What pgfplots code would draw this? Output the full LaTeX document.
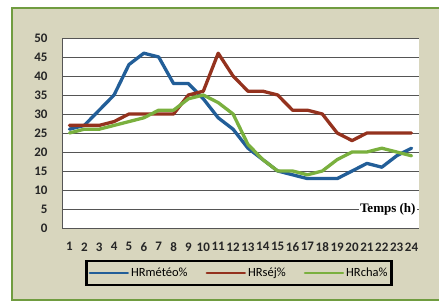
\documentclass[border=0pt]{standalone}
\usepackage{pgfplots}
\pgfplotsset{compat=1.18}
\usepackage{fontspec}
\setmainfont{Carlito}
\newfontfamily\timesfont{Liberation Serif}
\definecolor{bgbeige}{RGB}{216,214,190}
\definecolor{framegreen}{RGB}{112,156,64}
\definecolor{cblue}{RGB}{34,94,152}
\definecolor{cred}{RGB}{148,50,30}
\definecolor{cgreen}{RGB}{122,176,62}
\definecolor{gridgray}{RGB}{85,85,85}
\pgfplotstableread{
h meteo sej cha
1 26 27 25
2 27 27 26
3 31 27 26
4 35 28 27
5 43 30 28
6 46 30 29
7 45 30 31
8 38 30 31
9 38 35 34
10 34 36 35
11 29 46 33
12 26 40 30
13 21 36 22
14 18 36 18
15 15 35 15
16 14 31 15
17 13 31 14
18 13 30 15
19 13 25 18
20 15 23 20
21 17 25 20
22 16 25 21
23 19 25 20
24 21 25 19
}\datatable
\begin{document}
\begin{tikzpicture}[x=1pt,y=1pt]
\path[use as bounding box] (0,0) rectangle (439,302);
\fill[white] (0,0) rectangle (439,302);
\fill[bgbeige] (12,2) rectangle (445,294);
\draw[framegreen, line width=2pt] (445,2) -- (12,2) -- (12,294) -- (445,294);
\begin{axis}[
  at={(62pt,74pt)}, anchor=south west,
  scale only axis, width=357pt, height=190pt,
  xmin=0.5, xmax=24.5, ymin=0, ymax=50,
  xtick={1,...,24}, ytick={0,5,...,50},
  axis background/.style={fill=white},
  axis x line*=bottom, axis y line*=left,
  axis line style={gridgray, line width=0.8pt},
  major tick length=0pt,
  ymajorgrids, grid style={gridgray, line width=0.8pt},
  /pgf/number format/assume math mode=true,
  tick label style={font=\bfseries\fontsize{13}{13}\selectfont, text=black!85},
  yticklabel style={xshift=-11pt},
  xticklabel style={yshift=-11pt},
  legend columns=3,
  legend style={at={(0.496,-0.237)}, anchor=center, draw=black, line width=2.5pt,
     fill=bgbeige, font=\fontsize{12.5}{12.5}\selectfont, inner xsep=2pt, inner ysep=5pt,
     /tikz/every even column/.append style={column sep=16pt}},
  legend image code/.code={\draw[#1, line width=2.5pt] (0pt,0pt) -- (38pt,0pt);},
  every axis plot/.append style={line width=3.3pt, line join=round, line cap=round},
]
\addplot[cblue] table[x=h,y=meteo] {\datatable};
\addlegendentry{HRmétéo\%}
\addplot[cred] table[x=h,y=sej] {\datatable};
\addlegendentry{HRséj\%}
\addplot[cgreen] table[x=h,y=cha] {\datatable};
\addlegendentry{HRcha\%}
\node[fill=white, inner sep=1.5pt, font=\timesfont\bfseries\fontsize{13}{13}\selectfont] at (axis cs:22.4,5) {Temps (h)};
\end{axis}
\end{tikzpicture}
\end{document}
